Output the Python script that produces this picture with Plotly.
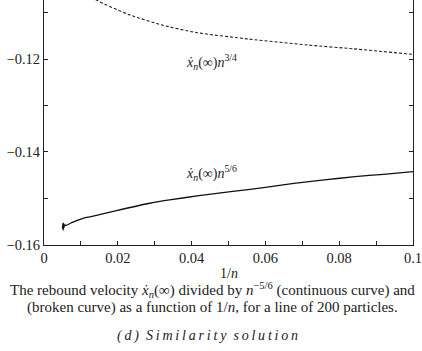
import plotly.graph_objects as go

# 1/n values and curves
inv_n_broken = [0.0050, 0.0070, 0.0100, 0.0142, 0.0232, 0.0321, 0.0412, 0.0555, 0.0717, 0.0838, 0.1000]
vel_broken = [-0.0980, -0.1010, -0.1045, -0.1073, -0.1105, -0.1127, -0.1143, -0.1157, -0.1170, -0.1178, -0.1190]

inv_n_cont = [0.0050, 0.0051, 0.0052, 0.0053, 0.0054, 0.0056, 0.0060, 0.0075, 0.0106, 0.0150, 0.0196,
              0.0286, 0.0340, 0.0420, 0.0506, 0.0600, 0.0677, 0.0760, 0.0843, 0.0920, 0.1000]
vel_cont = [-0.1565, -0.1554, -0.1568, -0.1553, -0.1562, -0.1557, -0.1558, -0.1552, -0.15426, -0.1535, -0.15262,
            -0.15103, -0.15032, -0.1494, -0.14854, -0.1476, -0.14673, -0.1460, -0.14531, -0.1448, -0.14424]

serif = "Liberation Serif"

fig = go.Figure()
fig.add_trace(go.Scatter(x=inv_n_broken, y=vel_broken, mode="lines",
                         line=dict(color="#222222", width=1.1, dash="3px,2px", shape="spline", smoothing=0.6),
                         hoverinfo="skip"))
fig.add_trace(go.Scatter(x=inv_n_cont, y=vel_cont, mode="lines",
                         line=dict(color="#111111", width=1.3, shape="spline", smoothing=0.5),
                         hoverinfo="skip"))

W, H = 422, 351
L, R, T, B = 44, 7, 0, 106
ph = H - T - B  # plot height


def py(pix):
    return (H - B - pix) / ph


def px(pix):
    return (pix - L) / (W - L - R)


fig.update_layout(
    width=W, height=H,
    margin=dict(l=L, r=R, t=T, b=B),
    paper_bgcolor="white", plot_bgcolor="white",
    showlegend=False,
    font=dict(family=serif, size=14, color="#222222"),
    xaxis=dict(range=[-0.00001, 0.10001], tick0=0, dtick=0.02,
               ticks="inside", ticklen=4, tickcolor="#222222", showgrid=False, zeroline=False,
               minor=dict(ticks="inside", ticklen=4, dtick=0.01, tickcolor="#222222", showgrid=False),
               showline=True, linecolor="#222222", linewidth=1, mirror=False,
               ticklabeloverflow="allow",
               tickfont=dict(family=serif, size=14.5)),
    yaxis=dict(range=[-0.16001, -0.1073], tick0=-0.16, dtick=0.02,
               ticks="inside", ticklen=4, tickcolor="#222222", showgrid=False, zeroline=False,
               minor=dict(ticks="inside", ticklen=4, dtick=0.01, tickcolor="#222222", showgrid=False),
               showline=True, linecolor="#222222", linewidth=1, mirror="ticks",
               ticklabeloverflow="allow",
               tickfont=dict(family=serif, size=14.5)),
)

ts = "\u2009"
caption3 = "<i>" + ts.join("(d)") + "  " + ts.join("Similarity") + "  " + ts.join("solution") + "</i>"

anns = [
    dict(x=px(185), y=py(62), text="<i>x\u0307</i><sub><i>n</i></sub>(\u221e)<i>n</i><sup>3/4</sup>",
         xanchor="left", yanchor="middle", size=14),
    dict(x=px(185), y=py(173), text="<i>x\u0307</i><sub><i>n</i></sub>(\u221e)<i>n</i><sup>5/6</sup>",
         xanchor="left", yanchor="middle", size=14),
    dict(x=px(230), y=py(273), text="1/<i>n</i>", xanchor="center", yanchor="middle", size=14),
    dict(x=px(213), y=py(290),
         text="The rebound velocity <i>x\u0307</i><sub><i>n</i></sub>(\u221e) divided by <i>n</i><sup>\u22125/6</sup> (continuous curve) and",
         xanchor="center", yanchor="middle", size=15),
    dict(x=px(213), y=py(307),
         text="(broken curve) as a function of 1/<i>n</i>, for a line of 200 particles.",
         xanchor="center", yanchor="middle", size=15),
    dict(x=px(208), y=py(336), text=caption3,
         xanchor="center", yanchor="middle", size=14),
]
for a in anns:
    fig.add_annotation(x=a["x"], y=a["y"], xref="paper", yref="paper", text=a["text"],
                       showarrow=False, xanchor=a["xanchor"], yanchor=a["yanchor"],
                       font=dict(family=serif, size=a["size"], color="#222222"))

fig.write_html("out.html")
